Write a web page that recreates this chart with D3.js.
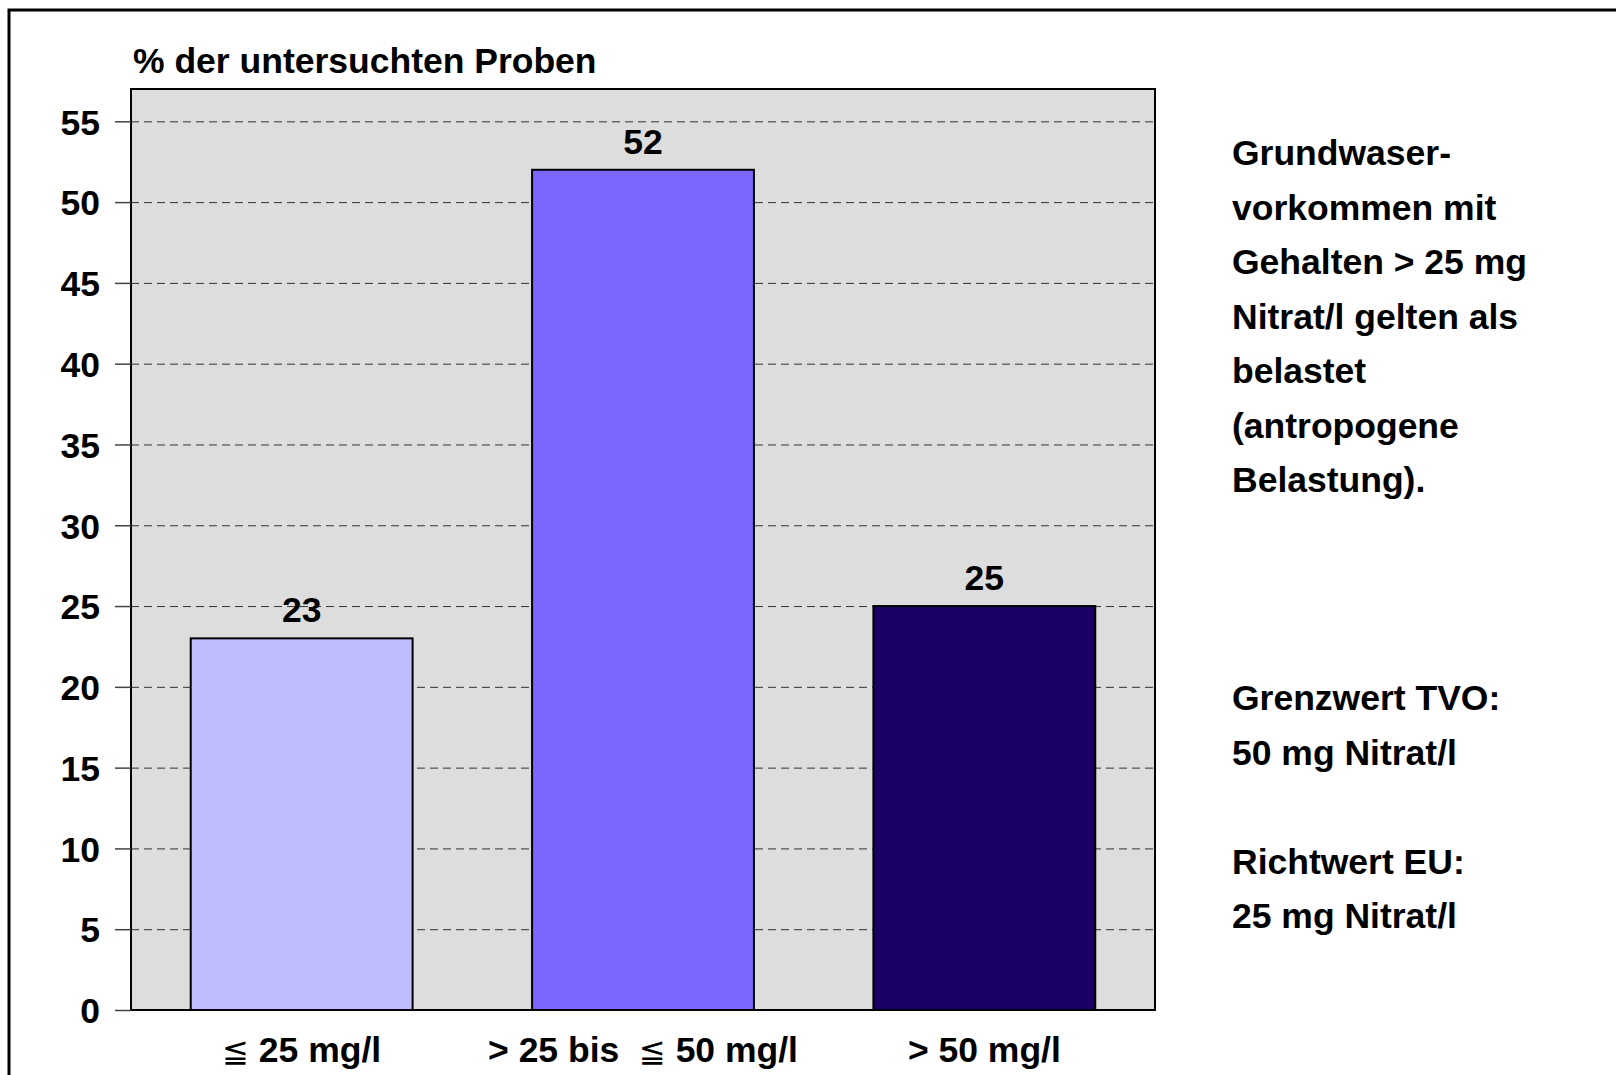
<!DOCTYPE html>
<html>
<head>
<meta charset="utf-8">
<script src="https://cdn.jsdelivr.net/npm/d3@7"></script>
<style>
  html, body { margin: 0; padding: 0; background: #fff; }
  svg { display: block; }
  text { font-family: "Liberation Sans", Arial, sans-serif; font-weight: bold; fill: #000; }
</style>
</head>
<body>
<svg id="chart" width="1616" height="1075"></svg>
<script>
const categories = ["≦ 25 mg/l", "> 25 bis  ≦ 50 mg/l", "> 50 mg/l"];
const values = [23, 52, 25];
const barColors = ["#BDBDFF", "#7B66FF", "#1A0066"];
const yTicks = [0, 5, 10, 15, 20, 25, 30, 35, 40, 45, 50, 55];
const yTitle = "% der untersuchten Proben";
const noteLines = [
  "Grundwaser-", "vorkommen mit", "Gehalten > 25 mg", "Nitrat/l gelten als",
  "belastet", "(antropogene", "Belastung).", "", "", "",
  "Grenzwert TVO:", "50 mg Nitrat/l", "", "Richtwert EU:", "25 mg Nitrat/l"
];

const svg = d3.select("#chart");
const FS = 35.5;

// outer frame (right/bottom edges outside the picture)
svg.append("rect")
  .attr("x", 9).attr("y", 10)
  .attr("width", 1800).attr("height", 1400)
  .attr("fill", "none").attr("stroke", "#000").attr("stroke-width", 3);

const plot = { left: 131, right: 1155, top: 89, bottom: 1010 };

const x = d3.scaleBand()
  .domain(categories)
  .range([plot.left, plot.right])
  .paddingInner(0.35)
  .paddingOuter(0.175);

const y = d3.scaleLinear()
  .domain([0, 57])
  .range([plot.bottom, plot.top]);

// plot background
svg.append("rect")
  .attr("x", plot.left).attr("y", plot.top)
  .attr("width", plot.right - plot.left).attr("height", plot.bottom - plot.top)
  .attr("fill", "#DDDDDD");

// gridlines
const grid = svg.append("g")
  .attr("transform", `translate(${plot.left},0)`)
  .call(d3.axisLeft(y).tickValues(yTicks.filter(d => d > 0)).tickSize(-(plot.right - plot.left)).tickFormat(""));
grid.select(".domain").remove();
grid.selectAll(".tick line")
  .attr("stroke", "#333").attr("stroke-width", 1).attr("stroke-dasharray", "8,5");

// bars
svg.append("g").selectAll("rect")
  .data(values)
  .join("rect")
  .attr("x", (d, i) => x(categories[i]))
  .attr("y", d => y(d))
  .attr("width", x.bandwidth())
  .attr("height", d => y(0) - y(d))
  .attr("fill", (d, i) => barColors[i])
  .attr("stroke", "#000").attr("stroke-width", 2);

// plot border
svg.append("rect")
  .attr("x", plot.left).attr("y", plot.top)
  .attr("width", plot.right - plot.left).attr("height", plot.bottom - plot.top)
  .attr("fill", "none").attr("stroke", "#000").attr("stroke-width", 2);

// y axis ticks & labels
const yAxis = svg.append("g")
  .attr("transform", `translate(${plot.left},0)`)
  .call(d3.axisLeft(y).tickValues(yTicks).tickSize(16).tickPadding(15));
yAxis.select(".domain").remove();
yAxis.selectAll(".tick line").attr("stroke", "#444").attr("stroke-width", 1.5);
yAxis.selectAll(".tick text")
  .attr("font-size", FS)
  .attr("font-family", "'Liberation Sans', Arial, sans-serif")
  .attr("font-weight", "bold")
  .attr("fill", "#000")
  .attr("dy", "0.36em");

// value labels
svg.append("g").selectAll("text")
  .data(values)
  .join("text")
  .attr("x", (d, i) => x(categories[i]) + x.bandwidth() / 2)
  .attr("y", d => y(d) - 16)
  .attr("text-anchor", "middle")
  .attr("font-size", FS)
  .text(d => d);

// category labels
const xAxis = svg.append("g")
  .attr("transform", `translate(0,${plot.bottom})`)
  .call(d3.axisBottom(x).tickSize(0).tickPadding(0));
xAxis.select(".domain").remove();
xAxis.selectAll(".tick text")
  .attr("font-size", FS)
  .attr("font-family", "'Liberation Sans', Arial, sans-serif")
  .attr("font-weight", "bold")
  .attr("fill", "#000")
  .attr("dy", 0)
  .attr("y", 52)
  .style("white-space", "pre")
  .each(function(d) {
    const t = d3.select(this);
    t.text(null);
    d.split(/(≦)/).forEach(part => {
      if (!part) return;
      const ts = t.append("tspan").text(part);
      if (part === "≦") ts.attr("font-weight", "normal").attr("font-family", "'DejaVu Sans', sans-serif").attr("font-size", FS * 0.9);
    });
  });

// y title
svg.append("text")
  .attr("x", 133).attr("y", 73)
  .attr("font-size", FS)
  .text(yTitle);

// side note
svg.append("g").selectAll("text")
  .data(noteLines)
  .join("text")
  .attr("x", 1232)
  .attr("y", (d, i) => 165 + i * 54.5)
  .attr("font-size", FS)
  .text(d => d);
</script>
</body>
</html>
